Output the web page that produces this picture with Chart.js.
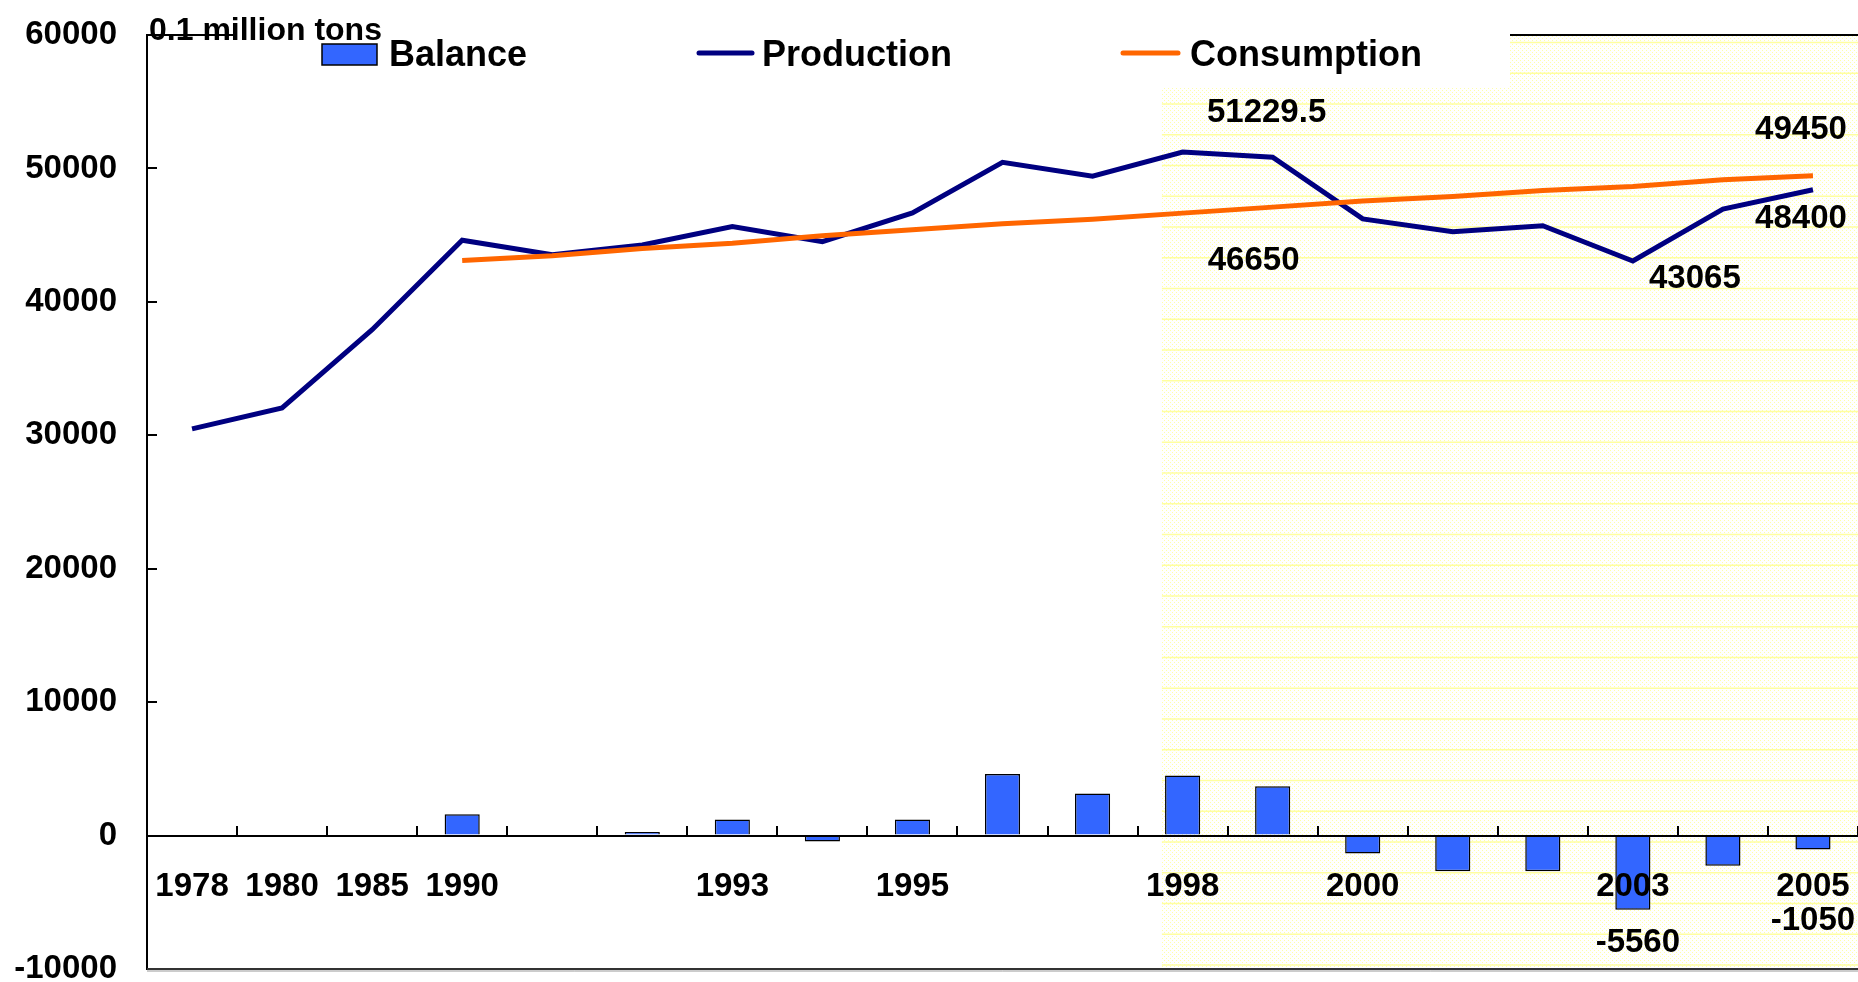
<!DOCTYPE html>
<html>
<head>
<meta charset="utf-8">
<script src="https://cdn.jsdelivr.net/npm/chart.js@4.4.1/dist/chart.umd.min.js"></script>
<style>
  html, body { margin: 0; padding: 0; background: #fff; }
  #wrap { width: 1858px; height: 982px; }
</style>
</head>
<body>
<div id="wrap"><canvas id="grainChart" width="1858" height="982"></canvas></div>
<script>
// 年份 (19 categories), only some of them get a label under the axis
const years = ['1978', '1980', '1985', '1990', '1991', '1992', '1993', '1994', '1995', '1996',
  '1997', '1998', '1999', '2000', '2001', '2002', '2003', '2004', '2005'];
const yearLabels = ['1978', '1980', '1985', '1990', '', '', '1993', '', '1995', '',
  '', '1998', '', '2000', '', '', '2003', '', '2005'];

// 0.1 million tons
const production = [30477, 32056, 37911, 44624, 43529, 44266, 45649, 44510, 46662, 50454,
  49417, 51229.5, 50839, 46218, 45264, 45706, 43065, 46947, 48400];
const consumption = [null, null, null, 43100, 43450, 44000, 44400, 44950, 45400, 45850,
  46200, 46650, 47100, 47550, 47900, 48350, 48650, 49150, 49450];
const balance = [null, null, null, 1600, null, 270, 1200, -450, 1200, 4620,
  3150, 4500, 3700, -1350, -2670, -2670, -5560, -2270, -1050];

const yMin = -10000;
const yMax = 60000;
const yStep = 10000;

const seriesNames = ['Balance', 'Production', 'Consumption'];
const unitText = '0.1 million tons';

const FONT = '"Liberation Sans", Arial, sans-serif';
const BAR_COLOR = '#3366ff';
const PROD_COLOR = '#000080';
const CONS_COLOR = '#ff6600';

// which values get a text label, and where it sits relative to the point
const valueNotes = [
  { ds: 1, i: 11, dx: 84, dy: -39 },
  { ds: 2, i: 11, dx: 71, dy: 48 },
  { ds: 2, i: 18, dx: -12, dy: -46 },
  { ds: 1, i: 18, dx: -12, dy: 29 },
  { ds: 1, i: 16, dx: 62, dy: 18 },
  { ds: 0, i: 16, dx: 5, dy: 33 },
  { ds: 0, i: 18, dx: 0, dy: 71 },
];

function makeDotPattern(ctx) {
  const c = document.createElement('canvas');
  c.width = 4;
  c.height = 4;
  const g = c.getContext('2d');
  g.fillStyle = '#ffffff';
  g.fillRect(0, 0, 4, 4);
  g.fillStyle = '#ffffa8';
  g.fillRect(0, 0, 1, 1);
  g.fillRect(2, 2, 1, 1);
  return ctx.createPattern(c, 'repeat');
}

// 背景と黄色の網掛け部分
const backgroundPlugin = {
  id: 'backgroundPlugin',
  beforeDraw(chart) {
    const { ctx, chartArea, scales } = chart;
    ctx.save();
    ctx.fillStyle = '#ffffff';
    ctx.fillRect(0, 0, chart.width, chart.height);

    const x0 = scales.x.getPixelForValue(10.77);
    ctx.fillStyle = makeDotPattern(ctx);
    ctx.fillRect(x0, chartArea.top, chartArea.right - x0, chartArea.bottom - chartArea.top);

    ctx.strokeStyle = '#ffffa0';
    ctx.lineWidth = 1.5;
    for (let y = chartArea.top + 7.5; y < chartArea.bottom; y += 30.75) {
      ctx.beginPath();
      ctx.moveTo(x0, y);
      ctx.lineTo(chartArea.right, y);
      ctx.stroke();
    }
    ctx.restore();
  },
};

// 枠線・凡例・単位・数値ラベル
const overlayPlugin = {
  id: 'overlayPlugin',
  afterDraw(chart) {
    const { ctx, chartArea } = chart;
    ctx.save();

    // plot frame top and bottom
    ctx.strokeStyle = '#000';
    ctx.lineWidth = 2;
    ctx.beginPath();
    ctx.moveTo(chartArea.left, chartArea.top);
    ctx.lineTo(chartArea.right, chartArea.top);
    ctx.stroke();
    ctx.strokeStyle = '#333';
    ctx.lineWidth = 2;
    ctx.beginPath();
    ctx.moveTo(chartArea.left, chartArea.bottom);
    ctx.lineTo(chartArea.right, chartArea.bottom);
    ctx.stroke();
    ctx.strokeStyle = '#999';
    ctx.lineWidth = 1;
    ctx.beginPath();
    ctx.moveTo(chartArea.left, chartArea.bottom + 2);
    ctx.lineTo(chartArea.right, chartArea.bottom + 2);
    ctx.stroke();

    // legend box
    ctx.fillStyle = '#ffffff';
    ctx.fillRect(237, 0, 1510 - 237, 88);

    ctx.font = 'bold 36px ' + FONT;
    ctx.textBaseline = 'alphabetic';
    ctx.textAlign = 'left';
    ctx.fillStyle = '#000';

    // Balance
    ctx.fillStyle = BAR_COLOR;
    ctx.fillRect(322, 44, 55, 21);
    ctx.strokeStyle = '#000';
    ctx.lineWidth = 1.5;
    ctx.strokeRect(322, 44, 55, 21);
    ctx.fillStyle = '#000';
    ctx.fillText(seriesNames[0], 389, 66);

    // Production / Consumption
    const lineItems = [
      { x1: 699, x2: 752, color: PROD_COLOR, tx: 762, name: seriesNames[1] },
      { x1: 1123, x2: 1178, color: CONS_COLOR, tx: 1190, name: seriesNames[2] },
    ];
    lineItems.forEach(item => {
      ctx.strokeStyle = item.color;
      ctx.lineWidth = 5;
      ctx.lineCap = 'round';
      ctx.beginPath();
      ctx.moveTo(item.x1, 53);
      ctx.lineTo(item.x2, 53);
      ctx.stroke();
      ctx.fillStyle = '#000';
      ctx.fillText(item.name, item.tx, 66);
    });

    // unit
    ctx.font = 'bold 32px ' + FONT;
    ctx.fillText(unitText, 149, 40);

    // value labels
    ctx.font = 'bold 33px ' + FONT;
    ctx.textAlign = 'center';
    ctx.textBaseline = 'middle';
    valueNotes.forEach(note => {
      const meta = chart.getDatasetMeta(note.ds);
      const el = meta.data[note.i];
      if (!el) return;
      const value = chart.data.datasets[note.ds].data[note.i];
      ctx.fillText(String(value), el.x + note.dx, el.y + note.dy);
    });

    ctx.restore();
  },
};

const data = {
  labels: years,
  datasets: [
    {
      type: 'bar',
      label: seriesNames[0],
      data: balance,
      backgroundColor: BAR_COLOR,
      borderColor: '#000',
      borderWidth: 1.5,
      barPercentage: 0.39,
      categoryPercentage: 1,
      order: 3,
    },
    {
      type: 'line',
      label: seriesNames[1],
      data: production,
      borderColor: PROD_COLOR,
      borderWidth: 5,
      pointRadius: 0,
      tension: 0,
      order: 2,
    },
    {
      type: 'line',
      label: seriesNames[2],
      data: consumption,
      borderColor: CONS_COLOR,
      borderWidth: 5,
      pointRadius: 0,
      tension: 0,
      order: 1,
    },
  ],
};

const options = {
  responsive: false,
  animation: false,
  layout: {
    padding: { top: 35, bottom: 13, left: 0, right: 0 },
  },
  plugins: {
    legend: { display: false },
    tooltip: { enabled: false },
  },
  scales: {
    x: {
      type: 'category',
      offset: true,
      position: { y: 0 },
      grid: {
        display: true,
        offset: true,
        drawOnChartArea: false,
        drawTicks: true,
        tickLength: -11,
        color: '#000',
        lineWidth: 2,
        z: 1,
      },
      border: { display: true, color: '#000', width: 2, z: 1 },
      ticks: {
        z: 1,
        autoSkip: false,
        maxRotation: 0,
        minRotation: 0,
        padding: 43,
        color: '#000',
        font: { family: FONT, size: 33, weight: 'bold' },
        callback: (val, i) => yearLabels[i],
      },
      afterFit: scale => {
        scale.paddingLeft = 0;
        scale.paddingRight = 0;
      },
    },
    y: {
      position: 'left',
      min: yMin,
      max: yMax,
      grid: {
        display: true,
        drawOnChartArea: false,
        drawTicks: true,
        tickLength: -10,
        color: '#000',
        lineWidth: 2,
      },
      border: { display: true, color: '#000', width: 2 },
      ticks: {
        stepSize: yStep,
        padding: 40,
        color: '#000',
        font: { family: FONT, size: 33, weight: 'bold' },
        callback: v => String(v),
      },
      afterFit: scale => {
        scale.width = 147;
        scale.paddingTop = 0;
        scale.paddingBottom = 0;
      },
    },
  },
};

const ctx = document.getElementById('grainChart').getContext('2d');
new Chart(ctx, {
  type: 'bar',
  data,
  options,
  plugins: [backgroundPlugin, overlayPlugin],
});
</script>
</body>
</html>
